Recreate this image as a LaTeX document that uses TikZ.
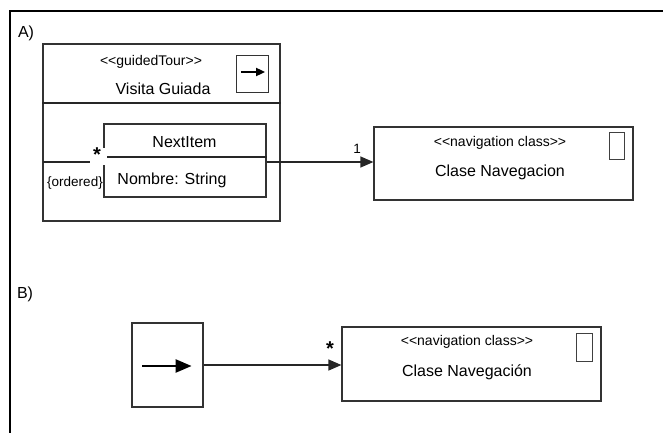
\documentclass[tikz,border=0pt]{standalone}
\usepackage{fontspec}
\setmainfont{Liberation Sans}
\usetikzlibrary{arrows.meta}
% stereotype brackets without the guillemet ligature
\newcommand{\stl}{<{}<}
\newcommand{\str}{>{}>}
\begin{document}
\begin{tikzpicture}[x=1pt,y=-1pt,
  box/.style={draw=black!80, line width=1.2pt, fill=white, inner sep=0pt},
  iconbox/.style={draw=black!75, line width=1pt, fill=white, inner sep=0pt},
  txt/.style={inner sep=0pt, font=\fontsize{16}{18}\selectfont},
  stereo/.style={inner sep=0pt, font=\fontsize{14}{16}\selectfont},
  small/.style={inner sep=0pt, font=\fontsize{13.5}{15}\selectfont},
  mult/.style={inner sep=0pt, font=\fontsize{20}{22}\selectfont\bfseries},
  conn/.style={draw=black!85, line width=1.2pt},
  head/.style={-{Triangle[length=13pt,width=11pt]}},
]
\useasboundingbox (0,0) rectangle (663,433);
% outer frame
\draw[line width=2.2pt] (10,433) -- (10,11) -- (663,11);

% ---------- A) ----------
\node[txt] (labA) at (26,33) {A)};

\node[box, minimum width=237pt, minimum height=177pt] (tour) at (161.5,132.5) {};
\coordinate (tourDiv) at (0,103);
\draw[conn] (tour.west |- tourDiv) -- (tour.east |- tourDiv);
\node[stereo] (tourStereo) at (151,62) {\stl guidedTour\str};
\node[txt] (tourName) at (163,89) {Visita Guiada};
\node[box, minimum width=32pt, minimum height=37pt] (tourIcon) at (252.5,74) {};
\draw[line width=1.8pt, -{Triangle[length=9pt,width=8pt]}]
  ([xshift=5pt,yshift=2pt]tourIcon.west) -- ([xshift=-4pt,yshift=2pt]tourIcon.east);

% association leaving the guided tour
\coordinate (assocL) at (43,162);
\coordinate (assocG) at (90,162);
\draw[conn] (assocL) -- (assocG);

\node[box, minimum width=162pt, minimum height=73pt] (item) at (185,160.5) {};
\coordinate (itemDiv) at (0,157);
\draw[conn] (item.west |- itemDiv) -- (item.east |- itemDiv);
\fill[white] (101,148) rectangle (107,165);
\node[txt] (itemName) at (184.5,142) {NextItem};
\node[txt] (itemAttr) at (172,180) {Nombre: String};
\node[small] (ordered) at (75,183) {\{ordered\}};
\node[mult] (starA) at (97,155) {*};

\node[box, minimum width=259pt, minimum height=73pt] (navA) at (503.5,163.5) {};
\node[stereo] (navAStereo) at (500,142.5) {\stl navigation class\str};
\node[txt] (navAName) at (500,172) {Clase Navegacion};
\node[iconbox, minimum width=15pt, minimum height=27pt] (navAIcon) at (616.5,145.5) {};

\draw[conn, head] (item.east |- assocL) -- (navA.west |- assocL);
\node[small] (oneA) at (357,149) {1};

% ---------- B) ----------
\node[txt] (labB) at (25,294) {B)};

\node[box, minimum width=71pt, minimum height=84pt] (tourB) at (167.5,365) {};
\draw[line width=2.4pt, -{Triangle[length=16pt,width=13pt]}]
  ([xshift=11pt,yshift=-1pt]tourB.west) -- ([xshift=-12pt,yshift=-1pt]tourB.east);

\node[box, minimum width=259pt, minimum height=74pt] (navB) at (471.5,364) {};
\node[stereo] (navBStereo) at (467,342) {\stl navigation class\str};
\node[txt] (navBName) at (467,372) {Clase Navegación};
\node[iconbox, minimum width=16pt, minimum height=28pt] (navBIcon) at (584,347) {};

\draw[conn, head] (tourB.east) -- (navB.west |- tourB.east);
\node[mult] (starB) at (330,349) {*};
\end{tikzpicture}
\end{document}
